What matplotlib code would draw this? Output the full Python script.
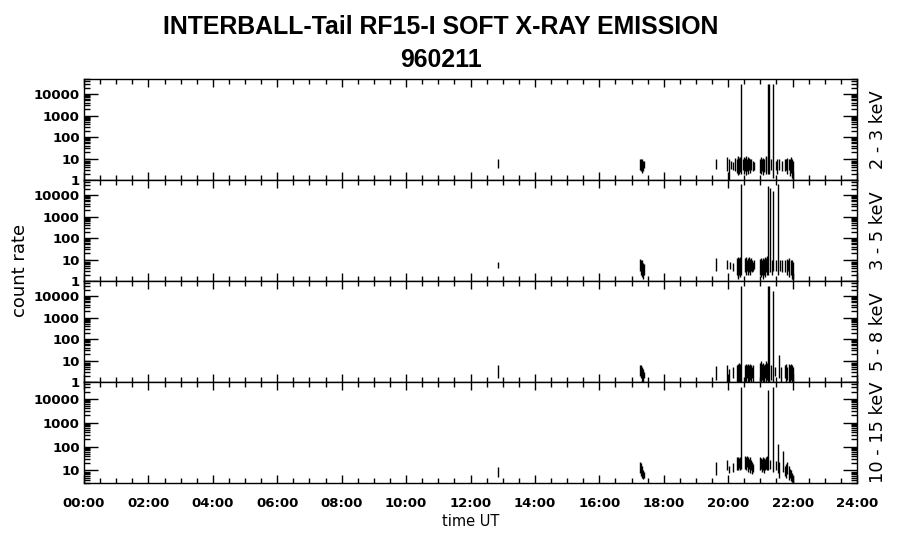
import matplotlib
matplotlib.use('Agg')
import matplotlib.pyplot as plt
from matplotlib.ticker import FixedLocator, MultipleLocator, LogLocator, NullFormatter, FixedFormatter

plt.rcParams['font.family'] = ['DejaVu Sans']

# ---------------- data (hours UT, low / high count rate of each vertical stroke) -------------
band_labels = ["2 - 3 keV", "3 - 5 keV", "5 - 8 keV", "10 - 15 keV"]

t_b1 = [12.86, 17.26, 17.29, 17.32, 17.35, 17.38, 19.61, 19.95, 20.04, 20.10, 20.16, 20.22,
        20.26, 20.29, 20.32, 20.35, 20.37, 20.40, 20.45, 20.50, 20.53, 20.56, 20.59, 20.62,
        20.65, 20.68, 20.72, 20.77, 20.80, 20.99, 21.02, 21.05, 21.09, 21.12, 21.16, 21.19,
        21.23, 21.28, 21.33, 21.38, 21.48, 21.53, 21.57, 21.66, 21.76, 21.80, 21.84, 21.88,
        21.91, 21.94, 21.97, 22.01]
lo_b1 = [3.6, 3.0, 2.5, 2.2, 2.5, 3.5, 3.3, 2.5, 1.0, 3.3, 3.0, 2.5,
         2.2, 3.0, 1.8, 2.0, 2.4, 2.0, 3.0, 2.0, 2.5, 1.8, 2.5, 2.0,
         2.8, 2.2, 3.0, 2.5, 3.0, 2.2, 2.0, 2.5, 1.8, 2.3, 2.0, 2.5,
         2.0, 2.0, 3.0, 1.2, 3.0, 2.0, 3.0, 2.5, 2.5, 3.0, 2.0, 2.8,
         1.5, 2.2, 1.2, 1.0]
hi_b1 = [9, 10, 10, 9, 8, 8, 10, 12, 9, 7.5, 7, 11,
         10, 12, 13, 11, 12, 28000, 9, 12, 11, 13, 10, 12,
         11, 10, 9, 8, 7, 10, 12, 9, 11, 10, 13, 12,
         28000, 28000, 9, 28000, 8, 10, 9, 8, 9, 10, 11, 9,
         10, 12, 10, 8]

t_b2 = [12.86, 17.26, 17.29, 17.32, 17.35, 17.38, 19.61, 19.95, 20.06, 20.16, 20.26, 20.29,
        20.32, 20.35, 20.38, 20.40, 20.52, 20.55, 20.58, 20.61, 20.64, 20.67, 20.70, 20.73,
        20.77, 20.80, 20.99, 21.02, 21.05, 21.08, 21.11, 21.14, 21.17, 21.20, 21.25, 21.30,
        21.35, 21.40, 21.48, 21.55, 21.60, 21.66, 21.78, 21.82, 21.86, 21.90, 21.94, 21.97,
        22.01]
lo_b2 = [4, 3, 2, 1.5, 1.3, 2, 3, 3.5, 3.5, 3.0, 2.0, 1.5,
         1.2, 2.0, 1.5, 2.0, 2.5, 2.0, 3.0, 2.0, 2.5, 2.0, 3.0, 2.5,
         3.0, 3.5, 2.0, 1.5, 2.0, 1.3, 2.0, 1.5, 2.5, 2.0, 2.0, 2.5,
         2.0, 3.0, 3.0, 2.0, 3.0, 2.5, 2.5, 2.0, 3.0, 1.5, 2.0, 1.3,
         1.2]
hi_b2 = [8, 11, 10, 9, 7, 6, 12, 10, 8, 7, 12, 13,
         11, 12, 13, 31000, 12, 13, 10, 12, 13, 11, 12, 9,
         8, 9, 11, 12, 10, 12, 11, 13, 12, 14, 25000, 22000,
         10, 15000, 9, 31000, 10, 9, 10, 11, 9, 12, 10, 9,
         8]

t_b3 = [12.86, 17.26, 17.29, 17.32, 17.35, 17.38, 19.61, 19.95, 20.04, 20.16, 20.26, 20.29,
        20.32, 20.35, 20.38, 20.40, 20.52, 20.55, 20.58, 20.61, 20.64, 20.67, 20.70, 20.74,
        20.78, 20.99, 21.02, 21.05, 21.08, 21.11, 21.14, 21.17, 21.20, 21.25, 21.28, 21.33,
        21.40, 21.46, 21.59, 21.63, 21.76, 21.80, 21.84, 21.88, 21.91, 21.95, 21.98, 22.01]
lo_b3 = [1.5, 2.0, 1.5, 1.0, 1.0, 1.5, 1.3, 1.0, 1.0, 1.5, 1.0, 1.0,
         1.2, 1.0, 1.0, 1.0, 1.0, 1.0, 1.5, 1.0, 1.0, 1.2, 1.0, 1.5,
         1.0, 1.0, 1.0, 1.3, 1.0, 1.0, 1.5, 1.0, 1.2, 1.0, 1.0, 1.3,
         1.0, 2.0, 1.5, 1.0, 1.5, 1.0, 1.2, 1.0, 1.0, 1.3, 1.0, 1.0]
hi_b3 = [6, 6, 6, 5, 4, 3, 5.5, 6, 4, 5, 6, 7,
         6, 8, 7, 30000, 6, 7, 6, 7, 6, 7, 6, 5,
         6, 8, 9, 7, 8, 6, 7, 9, 8, 30000, 30000, 6,
         17000, 5, 18, 5, 6, 7, 5, 7, 6, 7, 6, 5]

t_b4 = [12.86, 17.26, 17.29, 17.32, 17.35, 17.38, 19.61, 19.95, 20.04, 20.16, 20.26, 20.29,
        20.32, 20.35, 20.38, 20.40, 20.52, 20.55, 20.58, 20.61, 20.64, 20.67, 20.70, 20.74,
        20.78, 20.99, 21.02, 21.05, 21.08, 21.11, 21.14, 21.17, 21.20, 21.25, 21.30, 21.40,
        21.48, 21.55, 21.58, 21.69, 21.76, 21.80, 21.84, 21.88, 21.91, 21.94, 21.97, 22.01]
lo_b4 = [5.6, 8, 6, 5, 4.5, 5, 6.4, 10, 8, 9, 11, 12,
         10, 13, 11, 12, 12, 10, 14, 9, 12, 8, 10, 7,
         9, 10, 12, 9, 11, 8, 10, 12, 11, 10, 12, 9,
         11, 8, 5, 9, 6, 5, 7, 4, 5, 3.5, 3.2, 3.1]
hi_b4 = [14, 23, 20, 15, 10, 9, 22, 27, 16, 20, 36, 30,
         38, 32, 36, 30000, 40, 35, 42, 38, 30, 36, 28, 22,
         18, 36, 34, 30, 38, 33, 30, 36, 40, 24000, 28, 30000,
         25, 130, 22, 65, 15, 18, 22, 16, 12, 10, 8, 6]

ylims = [(1, 5e4), (1, 5e4), (1, 5e4), (3, 5e4)]
y_major = [[1, 10, 100, 1000, 10000]] * 3 + [[10, 100, 1000, 10000]]
x_ticks = list(range(0, 25, 2))
x_ticklabels = ["%02d:00" % h for h in x_ticks]

series = [(t_b1, lo_b1, hi_b1), (t_b2, lo_b2, hi_b2), (t_b3, lo_b3, hi_b3), (t_b4, lo_b4, hi_b4)]

# ---------------- figure ----------------
W, H = 900, 548
fig = plt.figure(figsize=(W / 100, H / 100), dpi=100)
edges = [79, 180, 281, 382, 483]
x0, x1 = 84, 857

axes = []
for i in range(4):
    ax = fig.add_axes([x0 / W, 1 - edges[i + 1] / H, (x1 - x0) / W, (edges[i + 1] - edges[i]) / H])
    t, lo, hi = series[i]
    ax.vlines(t, lo, hi, colors='black', linewidth=1.0)
    ax.set_yscale('log')
    ax.set_xlim(0, 24)
    ax.set_ylim(*ylims[i])
    ax.yaxis.set_major_locator(FixedLocator(y_major[i]))
    ax.yaxis.set_major_formatter(FixedFormatter([str(v) for v in y_major[i]]))
    ax.yaxis.set_minor_locator(LogLocator(base=10, subs=range(2, 10), numticks=20))
    ax.yaxis.set_minor_formatter(NullFormatter())
    ax.xaxis.set_major_locator(FixedLocator(x_ticks))
    ax.xaxis.set_minor_locator(MultipleLocator(0.5))
    ax.tick_params(axis='both', which='both', direction='in', top=True, right=True,
                   colors='black', width=1.0, labelsize=9.5)
    ax.tick_params(axis='x', which='major', length=6)
    ax.tick_params(axis='x', which='minor', length=3.5)
    ax.tick_params(axis='y', which='major', length=10, pad=3)
    ax.tick_params(axis='y', which='minor', length=4.5)
    for lab in ax.get_yticklabels() + ax.get_xticklabels():
        lab.set_fontweight('bold')
    if i < 3:
        ax.tick_params(axis='x', labelbottom=False)
    else:
        ax.set_xticklabels(x_ticklabels, fontweight='bold')
        ax.tick_params(axis='x', which='major', pad=10)
    for s in ax.spines.values():
        s.set_linewidth(1.0)
    ax.text(1.027, 0.5, band_labels[i], transform=ax.transAxes, rotation=90,
            ha='center', va='center', fontsize=12.8)
    axes.append(ax)

fig.text(441 / W, 1 - 27 / H, "INTERBALL-Tail RF15-I SOFT X-RAY EMISSION", ha='center', va='center',
         fontsize=17.9, fontweight='bold', family='Liberation Sans')
fig.text(441 / W, 1 - 60 / H, "960211", ha='center', va='center',
         fontsize=17.9, fontweight='bold', family='Liberation Sans')
fig.text(20 / W, 1 - 270 / H, "count rate", rotation=90, ha='center', va='center', fontsize=13)
fig.text(471 / W, 1 - 522 / H, "time UT", ha='center', va='center', fontsize=10.5)

fig.savefig('out.png', dpi=100)
